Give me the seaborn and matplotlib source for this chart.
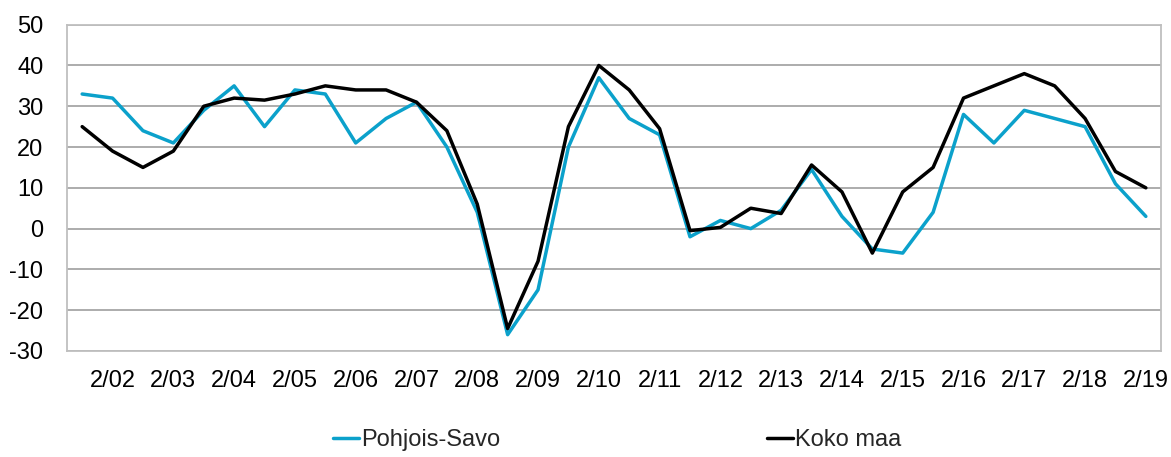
import numpy as np
import pandas as pd
import matplotlib
matplotlib.use("Agg")
import matplotlib.pyplot as plt
import seaborn as sns

# ---------------------------
# Data (half-year observations, 8/01 ... 2/19)
# ---------------------------
years = [f"{y:02d}" for y in range(2, 20)]
periods = ["8/01"]
for i, y in enumerate(years):
    periods.append(f"2/{y}")
    if i < len(years) - 1:
        periods.append(f"8/{y}")

pohjois_savo = [33, 32, 24, 21, 29, 35, 25, 34, 33, 21, 27, 31, 20, 4, -26, -15,
                20, 37, 27, 23, -2, 2, 0, 4.5, 14.5, 3, -5, -6, 4, 28, 21, 29,
                27, 25, 11, 3]
koko_maa = [25, 19, 15, 19, 30, 32, 31.5, 33, 35, 34, 34, 31, 24, 6, -24.5, -8,
            25, 40, 34, 24.5, -0.5, 0.3, 5, 3.7, 15.6, 9, -6, 9, 15, 32, 35, 38,
            35, 27, 14, 10]

series_names = ["Pohjois-Savo", "Koko maa"]
colors = ["#0ba1cb", "#000000"]

pos = np.arange(len(periods))
df = pd.DataFrame({
    "pos": np.concatenate([pos, pos]),
    "value": pohjois_savo + koko_maa,
    "series": [series_names[0]] * len(pos) + [series_names[1]] * len(pos),
})

# ---------------------------
# Plot
# ---------------------------
sns.set_theme(style="white")
plt.rcParams["font.family"] = ["Liberation Sans", "DejaVu Sans"]
plt.rcParams["axes.unicode_minus"] = False

fig = plt.figure(figsize=(11.71, 4.57), dpi=100)
ax = fig.add_axes([0.0572, 0.232, 0.9343, 0.714])

sns.lineplot(data=df, x="pos", y="value", hue="series", palette=colors,
             linewidth=2.5, ax=ax, legend=False)

ax.set_xlim(-0.5, len(periods) - 0.5)
ax.set_ylim(-30, 50)
ax.set_yticks(range(-30, 51, 10))
ax.yaxis.grid(True, color="#a6a6a6", linewidth=1.3)
ax.set_axisbelow(True)

label_pos = [i for i, p in enumerate(periods) if p.startswith("2/")]
ax.set_xticks(label_pos)
ax.set_xticklabels([periods[i] for i in label_pos])
ax.tick_params(axis="both", length=0, labelsize=17, colors="#000000")
ax.tick_params(axis="y", pad=17)
ax.tick_params(axis="x", pad=14)
ax.set_xlabel("")
ax.set_ylabel("")

for side in ["left", "right", "top", "bottom"]:
    ax.spines[side].set_color("#bfbfbf")
    ax.spines[side].set_linewidth(1.3)

handles = [plt.Line2D([], [], color=c, linewidth=2.5) for c in colors]
fig.legend(handles, series_names, loc="center", ncol=2,
           bbox_to_anchor=(617 / 1171, 1 - 440 / 457), frameon=False,
           fontsize=17, handlelength=1.1, handletextpad=0.1,
           columnspacing=11.3)

fig.savefig("out.png", dpi=100)
